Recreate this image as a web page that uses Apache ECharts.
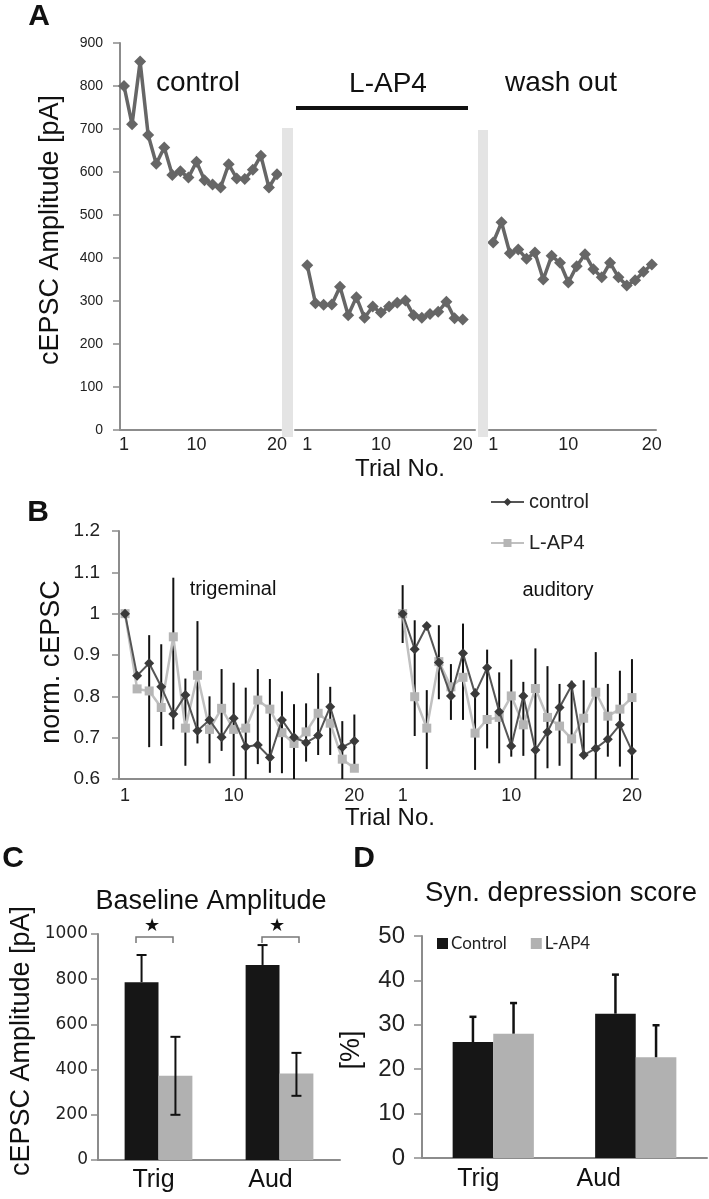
<!DOCTYPE html>
<html><head><meta charset="utf-8">
<script src="https://cdn.jsdelivr.net/npm/echarts@6/dist/echarts.min.js"></script>
<style>html,body{margin:0;padding:0;background:#fff}#c{width:709px;height:1199px}</style>
</head><body><div id="c"></div>
<script>
// ---------- Data ----------
const trials = ['1','2','3','4','5','6','7','8','9','10','11','12','13','14','15','16','17','18','19','20'];
const tickShown = ['1','10','20'];

// Panel A: cEPSC amplitude [pA]
const ampControl = [800,711,857,686,619,657,593,602,587,624,581,571,564,618,585,584,605,638,564,595];
const ampLAP4    = [383,295,291,292,333,267,309,261,287,273,287,296,301,267,261,270,275,298,260,257];
const ampWash    = [436,483,411,420,398,413,350,405,389,343,381,409,374,355,389,355,336,348,368,385];

// Panel B: normalised cEPSC
const trigControl = [1.000,0.850,0.880,0.823,0.757,0.803,0.717,0.743,0.701,0.747,0.678,0.682,0.652,0.743,0.701,0.688,0.705,0.775,0.677,0.692];
const trigLAP4    = [1.000,0.818,0.813,0.773,0.944,0.723,0.851,0.720,0.771,0.720,0.723,0.791,0.769,0.712,0.686,0.714,0.759,0.735,0.648,0.626];
const trigErrHigh = [1.010,null,0.948,0.926,1.087,0.843,0.982,0.800,0.866,0.833,0.821,0.866,0.842,0.812,0.781,0.783,0.856,0.823,0.740,0.756];
const trigErrLow  = [0.990,null,0.677,0.680,0.720,0.632,0.686,0.638,0.668,0.607,0.598,0.636,0.615,0.614,0.594,0.642,0.658,0.658,0.598,0.622];
const audControl  = [1.000,0.914,0.970,0.882,0.801,0.904,0.806,0.869,0.763,0.680,0.801,0.670,0.714,0.773,0.826,0.658,0.674,0.696,0.731,0.668];
const audLAP4     = [1.000,0.799,0.723,0.884,0.823,0.846,0.711,0.744,0.749,0.801,0.731,0.819,0.749,0.728,0.697,0.747,0.810,0.752,0.769,0.797];
const audErrHigh  = [1.069,0.984,0.815,0.972,0.878,0.976,0.819,0.913,0.858,0.889,0.835,0.916,0.873,0.830,0.838,0.839,0.907,0.830,0.862,0.890];
const audErrLow   = [0.929,0.704,0.624,0.793,0.743,0.743,0.622,0.674,0.638,0.654,0.656,0.594,0.626,0.632,0.594,0.650,0.594,0.654,0.630,0.594];
const gapB = ['','',''];

// Panel C: baseline amplitude [pA]
const groups = ['Trig','Aud'];
const baseControl     = [787, 863];
const baseControlHigh = [907, 951];
const baseLAP4        = [373, 383];
const baseLAP4Low     = [200, 284];
const baseLAP4High    = [545, 474];

// Panel D: synaptic depression score [%]
const depControl     = [26.1, 32.5];
const depControlHigh = [31.8, 41.3];
const depLAP4        = [28.0, 22.7];
const depLAP4High    = [34.9, 29.9];

// ---------- Build ----------
const FONT = "'Liberation Sans', Arial, sans-serif";
const AX = '#8c8c8c';
const nulls = gapB.map(()=>null);
const catB = trials.concat(gapB, trials);
const bControl = trigControl.concat(nulls, audControl);
const bLAP4 = trigLAP4.concat(nulls, audLAP4);
const bHigh = trigErrHigh.concat(nulls, audErrHigh);
const bLow = trigErrLow.concat(nulls, audErrLow);
const errB = [];
bHigh.forEach((h,i)=>{ if(h!=null && bLow[i]!=null) errB.push([i, bLow[i], h]); });

const catA2 = [''].concat(trials, ['']);
const lap4A = [null].concat(ampLAP4, [null]);

function xCat(gi, data, opts){
  return Object.assign({
    type:'category', gridIndex:gi, data:data, boundaryGap:true,
    axisLine:{lineStyle:{color:AX,width:2}},
    axisTick:{interval:0,length:5,lineStyle:{color:AX,width:1.5}},
    axisLabel:{interval:(i,v)=>tickShown.indexOf(v)>=0, fontSize:18, color:'#222', margin:6, fontFamily:FONT},
    splitLine:{show:false}
  }, opts||{});
}
function yVal(gi, min, max, interval, show, label){
  return {
    type:'value', gridIndex:gi, min:min, max:max, interval:interval, show:show,
    axisLine:{show:true,lineStyle:{color:AX,width:2}},
    axisTick:{show:true,length:7,lineStyle:{color:AX,width:1.5}},
    axisLabel:Object.assign({color:'#222',fontFamily:FONT, formatter:v=>String(Math.round(v*10)/10)},label||{}),
    splitLine:{show:false}
  };
}
function errRender(params, api){
  const i = api.value(0), lo = api.value(1), hi = api.value(2);
  const p1 = api.coord([i, lo]), p2 = api.coord([i, hi]);
  return {type:'line', shape:{x1:p1[0],y1:p1[1],x2:p2[0],y2:p2[1]}, style:{stroke:'#111',lineWidth:2}};
}
function barErr(sign, frac, capW, both, lw){
  return function(params, api){
    const i = api.value(0), lo = api.value(1), hi = api.value(2);
    const band = api.size([1,0])[0];
    const dx = sign*band*frac/2;
    const p1 = api.coord([i, lo]), p2 = api.coord([i, hi]);
    const x = p1[0]+dx;
    const st = {stroke:'#111', lineWidth:lw};
    const ch = [
      {type:'line', shape:{x1:x,y1:p1[1],x2:x,y2:p2[1]}, style:st},
      {type:'line', shape:{x1:x-capW,y1:p2[1],x2:x+capW,y2:p2[1]}, style:st}
    ];
    if(both) ch.push({type:'line', shape:{x1:x-capW,y1:p1[1],x2:x+capW,y2:p1[1]}, style:st});
    return {type:'group', children:ch};
  };
}
const zipErr = (lo, hi) => lo.map((v,i)=>[i, v, hi[i]]);

function txt(x, y, s, size, opts){
  return Object.assign({type:'text', x:x, y:y, z:50, style:Object.assign({text:s, fontSize:size, fontFamily:FONT, fill:'#111', textAlign:'center', textVerticalAlign:'middle'}, (opts&&opts.style)||{})}, opts&&opts.rot?{rotation:Math.PI/2}:{});
}
function lineA(name, xi, data){
  return {name:name, type:'line', xAxisIndex:xi, yAxisIndex:xi, data:data, symbol:'diamond', symbolSize:12, showAllSymbol:true,
    itemStyle:{color:'#666'}, lineStyle:{color:'#666', width:3.5}};
}

const option = {
  animation:false,
  backgroundColor:'#fff',
  grid:[
    {left:120, top:43, width:161, height:387, containLabel:false, outerBoundsMode:'none'},
    {left:295, top:43, width:180, height:387, containLabel:false, outerBoundsMode:'none'},
    {left:489, top:43, width:167, height:387, containLabel:false, outerBoundsMode:'none'},
    {left:119, top:531, width:519, height:248, containLabel:false, outerBoundsMode:'none'},
    {left:98, top:934, width:242, height:226, containLabel:false, outerBoundsMode:'none'},
    {left:422, top:936, width:285, height:222, containLabel:false, outerBoundsMode:'none'}
  ],
  xAxis:[
    xCat(0, trials),
    xCat(1, catA2),
    xCat(2, trials),
    xCat(3, catB, {axisLabel:{interval:(i,v)=>tickShown.indexOf(v)>=0, fontSize:18, color:'#222', margin:8, fontFamily:FONT}}),
    xCat(4, groups, {axisTick:{length:5,lineStyle:{color:AX,width:1.5}}, axisLabel:{fontSize:25,color:'#111',margin:8,fontFamily:FONT,
      formatter:v=>v==='Trig'?'{a|Trig}':'{b|Aud}', rich:{a:{fontSize:25,fontFamily:FONT,color:'#111',padding:[0,10,0,0]},b:{fontSize:25,fontFamily:FONT,color:'#111',padding:[0,18,0,0]}}}}),
    xCat(5, groups, {axisTick:{length:5,lineStyle:{color:AX,width:1.5}}, axisLabel:{fontSize:25,color:'#111',margin:9,fontFamily:FONT,
      formatter:v=>v==='Trig'?'{a|Trig}':'{b|Aud}', rich:{a:{fontSize:25,fontFamily:FONT,color:'#111',padding:[0,30,0,0]},b:{fontSize:25,fontFamily:FONT,color:'#111',padding:[0,74,0,0]}}}})
  ],
  yAxis:[
    yVal(0, 0, 900, 100, true, {fontSize:14, margin:17}),
    yVal(1, 0, 900, 100, false),
    yVal(2, 0, 900, 100, false),
    yVal(3, 0.6, 1.2, 0.1, true, {fontSize:19, margin:19}),
    yVal(4, 0, 1000, 200, true, {fontSize:17, margin:10, fontFamily:"'DejaVu Sans', sans-serif"}),
    Object.assign(yVal(5, 0, 50, 10, true, {fontSize:24, margin:17}), {axisTick:{show:true,length:8,lineStyle:{color:AX,width:1.5}}})
  ],
  legend:[
    {data:['control','L-AP4'], orient:'vertical', left:490, top:492, padding:0, itemWidth:33, itemHeight:10, itemGap:21,
     textStyle:{fontSize:20, color:'#222', fontFamily:FONT}},
    {data:['Control','L-AP4 '], orient:'horizontal', left:437, top:935, padding:0, itemWidth:11, itemHeight:11, itemGap:24, icon:'rect',
     textStyle:{fontSize:17, color:'#222', fontFamily:"Lato, 'Open Sans', sans-serif", padding:[0,0,0,-2]}}
  ],
  series:[
    // Panel A
    lineA('A control', 0, ampControl),
    lineA('A L-AP4', 1, lap4A),
    lineA('A wash', 2, ampWash),
    // Panel B
    {name:'B err', type:'custom', xAxisIndex:3, yAxisIndex:3, data:errB, renderItem:errRender, clip:true, z:1,
     encode:{x:0, y:[1,2]}},
    {name:'L-AP4', type:'line', xAxisIndex:3, yAxisIndex:3, data:bLAP4, symbol:'rect', symbolSize:9, z:2, showAllSymbol:true,
     itemStyle:{color:'#b5b5b5'}, lineStyle:{color:'#c0c0c0', width:2.5}},
    {name:'control', type:'line', xAxisIndex:3, yAxisIndex:3, data:bControl, symbol:'diamond', symbolSize:10, z:3, showAllSymbol:true,
     itemStyle:{color:'#3a3a3a'}, lineStyle:{color:'#555', width:2}},
    // Panel C
    {name:'Control C', type:'bar', xAxisIndex:4, yAxisIndex:4, data:baseControl, barGap:'0%', barCategoryGap:'44%',
     itemStyle:{color:'#161616'}},
    {name:'L-AP4 C', type:'bar', xAxisIndex:4, yAxisIndex:4, data:baseLAP4, barGap:'0%', barCategoryGap:'44%',
     itemStyle:{color:'#b1b1b1'}},
    {name:'C err ctrl', type:'custom', xAxisIndex:4, yAxisIndex:4, data:zipErr(baseControl, baseControlHigh),
     renderItem:barErr(-1, 0.28, 5, false, 2), encode:{x:0,y:[1,2]}, z:5},
    {name:'C err lap4', type:'custom', xAxisIndex:4, yAxisIndex:4, data:zipErr(baseLAP4Low, baseLAP4High),
     renderItem:barErr(1, 0.28, 5, true, 2), encode:{x:0,y:[1,2]}, z:5},
    // Panel D
    {name:'Control', type:'bar', xAxisIndex:5, yAxisIndex:5, data:depControl, barGap:'0%', barCategoryGap:'43%',
     itemStyle:{color:'#161616'}},
    {name:'L-AP4 ', type:'bar', xAxisIndex:5, yAxisIndex:5, data:depLAP4, barGap:'0%', barCategoryGap:'43%',
     itemStyle:{color:'#b1b1b1'}},
    {name:'D err ctrl', type:'custom', xAxisIndex:5, yAxisIndex:5, data:zipErr(depControl, depControlHigh),
     renderItem:barErr(-1, 0.285, 3.5, false, 2.5), encode:{x:0,y:[1,2]}, z:5},
    {name:'D err lap4', type:'custom', xAxisIndex:5, yAxisIndex:5, data:zipErr(depLAP4, depLAP4High),
     renderItem:barErr(1, 0.285, 3.5, false, 2.5), encode:{x:0,y:[1,2]}, z:5}
  ],
  graphic:[
    // panel letters
    txt(39, 17, 'A', 30, {style:{fontWeight:'bold'}}),
    txt(38, 513, 'B', 30, {style:{fontWeight:'bold'}}),
    txt(13, 859, 'C', 30, {style:{fontWeight:'bold'}}),
    txt(364, 859, 'D', 30, {style:{fontWeight:'bold'}}),
    // panel A annotations
    {type:'rect', shape:{x:282, y:128, width:11, height:309}, style:{fill:'#e4e4e4'}, z:40},
    {type:'rect', shape:{x:478, y:130, width:10, height:307}, style:{fill:'#e4e4e4'}, z:40},
    {type:'rect', shape:{x:296, y:106, width:172, height:4}, style:{fill:'#111'}, z:40},
    txt(198, 83, 'control', 28),
    txt(388, 84, 'L-AP4', 28),
    txt(561, 83, 'wash out', 28),
    txt(51, 230, 'cEPSC Amplitude [pA]', 27, {rot:true}),
    txt(400, 469, 'Trial No.', 24),
    // panel B annotations
    txt(52, 662, 'norm. cEPSC', 27, {rot:true}),
    txt(233, 589, 'trigeminal', 20),
    txt(558, 590, 'auditory', 20),
    txt(390, 818, 'Trial No.', 24),
    // panel C annotations
    txt(211, 902, 'Baseline Amplitude', 27),
    txt(22, 1041, 'cEPSC Amplitude [pA]', 27, {rot:true}),
    {type:'polyline', shape:{points:[[136,943],[136,937],[173,937],[173,943]]}, style:{stroke:'#777', lineWidth:1.5, fill:null}, z:40},
    {type:'polyline', shape:{points:[[262,943],[262,937],[299,937],[299,943]]}, style:{stroke:'#777', lineWidth:1.5, fill:null}, z:40},
    txt(152, 926, '★', 18),
    txt(277, 926, '★', 18),
    // panel D annotations
    txt(561, 893, 'Syn. depression score', 27.5),
    txt(352, 1050, '[%]', 27, {rot:true})
  ]
};
const chart = echarts.init(document.getElementById('c'), null, {renderer:'canvas'});
chart.setOption(option);
</script>
</body></html>
